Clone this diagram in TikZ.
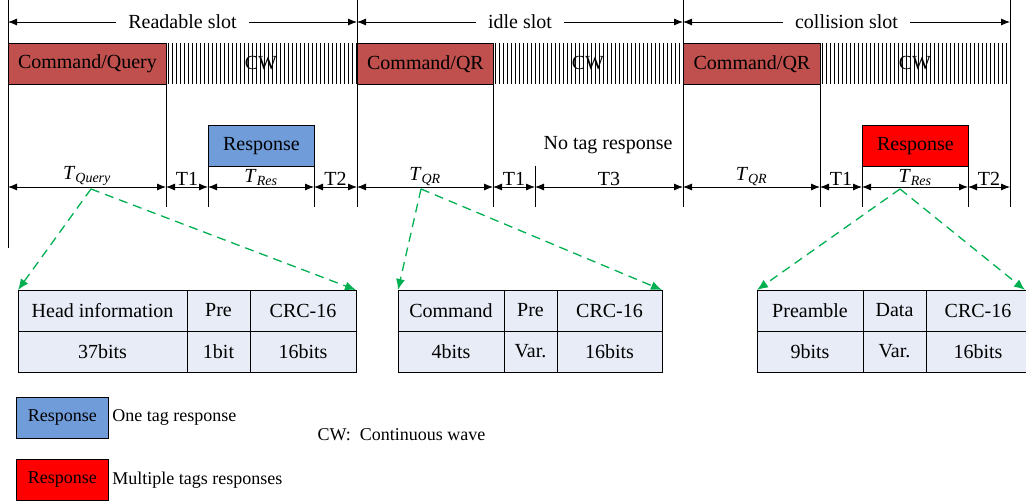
\documentclass[tikz,border=0pt]{standalone}
\usepackage{fontspec}
\setmainfont{Liberation Serif}
\usepackage{tikz}
\usetikzlibrary{arrows.meta, positioning, calc}
\definecolor{cmdred}{RGB}{192,80,77}
\definecolor{resblue}{RGB}{112,156,218}
\definecolor{multired}{RGB}{255,0,0}
\definecolor{cellblue}{RGB}{231,236,246}
\definecolor{zoomgreen}{RGB}{0,176,80}
\newcommand{\Tsub}[1]{\textit{T}\textsubscript{\textit{#1}}}
\tikzset{
    cmdbox/.style={draw, fill=cmdred, line width=0.9pt, minimum height=41pt, inner sep=0pt, anchor=north west},
    resbox/.style={draw, line width=0.9pt, minimum width=106pt, minimum height=41pt, inner sep=0pt, anchor=north west},
    cell/.style={draw, fill=cellblue, line width=0.9pt, minimum height=41pt, inner sep=0pt, outer sep=0pt},
    gap/.style={{Latex[length=9pt,width=7pt]}-{Latex[length=9pt,width=7pt]}, line width=0.8pt},
    zoomline/.style={zoomgreen, line width=1.3pt, dash pattern=on 9pt off 6pt, -{Latex[length=11pt,width=9pt]}},
    lbl/.style={above, inner sep=1pt},
    tick/.style={line width=0.9pt},
    keyfont/.style={font=\fontsize{18}{22}\selectfont},
}

\begin{document}
\begin{tikzpicture}[x=1pt, y=-1pt, font=\fontsize{20}{24}\selectfont]
    \useasboundingbox (0,0) rectangle (1026,502);

    % time marks
    \foreach \x/\a/\b in {8/0/248, 357/0/207, 683/0/207, 1010/0/207,
                          166/84/207, 208/166/207, 314/166/207,
                          493/84/207, 535/166/207,
                          820/84/207, 862/166/207, 968/166/207}
      \draw[tick] (\x,\a) -- (\x,\b);

    % slots
    \coordinate (s0) at (8,22);
    \coordinate (s1) at (357,22);
    \coordinate (s2) at (683,22);
    \coordinate (s3) at (1010,22);
    \draw[gap] (s0) -- node[fill=white, inner xsep=12pt]{Readable slot} (s1);
    \draw[gap] (s1) -- node[fill=white, inner xsep=12pt]{idle slot} (s2);
    \draw[gap] (s2) -- node[fill=white, inner xsep=12pt]{collision slot} (s3);

    % reader commands and carrier wave
    \node[cmdbox, minimum width=158pt] (cmdA) at (8,43) {Command/Query};
    \node[cmdbox, minimum width=136pt] (cmdB) at (357,43) {Command/QR};
    \node[cmdbox, minimum width=137pt] (cmdC) at (683,43) {Command/QR};

    \foreach \s/\n in {168/47, 495/46, 822/47}
      \foreach \i in {0,...,\n}
        \draw[line width=0.7pt] (\s+4*\i,43) -- (\s+4*\i,84);

    \node (cwA) at (261,63) {CW};
    \node (cwB) at (588,63) {CW};
    \node (cwC) at (915,63) {CW};

    % tag replies
    \node[resbox, fill=resblue] (resA) at (208,125) {Response};
    \node[resbox, fill=multired] (resC) at (862,125) {Response};
    \node (none) at (608,145) {No tag response};

    % durations
    \foreach \n/\x in {a0/8, a1/166, a2/208, a3/314, a4/357, b1/493, b2/535,
                       b3/683, c1/820, c2/862, c3/968, c4/1010}
      \coordinate (\n) at (\x,187);

    \draw[gap] (a0) -- node[lbl]{\Tsub{Query}} (a1);
    \draw[gap] (a1) -- node[lbl]{T1} (a2);
    \draw[gap] (a2) -- node[lbl]{\Tsub{Res}} (a3);
    \draw[gap] (a3) -- node[lbl]{T2} (a4);
    \draw[gap] (a4) -- node[lbl]{\Tsub{QR}} (b1);
    \draw[gap] (b1) -- node[lbl]{T1} (b2);
    \draw[gap] (b2) -- node[lbl]{T3} (b3);
    \draw[gap] (b3) -- node[lbl]{\Tsub{QR}} (c1);
    \draw[gap] (c1) -- node[lbl]{T1} (c2);
    \draw[gap] (c2) -- node[lbl]{\Tsub{Res}} (c3);
    \draw[gap] (c3) -- node[lbl]{T2} (c4);

    % frame formats
    \node[cell, minimum width=169pt, anchor=north west] (hA) at (18,290) {Head information};
    \node[cell, minimum width=63pt, right=0pt of hA] (hB) {Pre};
    \node[cell, minimum width=106pt, right=0pt of hB] (hC) {CRC-16};
    \node[cell, minimum width=169pt, below=0pt of hA] (vA) {37bits};
    \node[cell, minimum width=63pt, below=0pt of hB] (vB) {1bit};
    \node[cell, minimum width=106pt, below=0pt of hC] (vC) {16bits};

    \node[cell, minimum width=106pt, anchor=north west] (qA) at (398,290) {Command};
    \node[cell, minimum width=53pt, right=0pt of qA] (qB) {Pre};
    \node[cell, minimum width=105pt, right=0pt of qB] (qC) {CRC-16};
    \node[cell, minimum width=106pt, below=0pt of qA] (wA) {4bits};
    \node[cell, minimum width=53pt, below=0pt of qB] (wB) {Var.};
    \node[cell, minimum width=105pt, below=0pt of qC] (wC) {16bits};

    \node[cell, minimum width=106pt, anchor=north west] (rA) at (757,290) {Preamble};
    \node[cell, minimum width=63pt, right=0pt of rA] (rB) {Data};
    \node[cell, minimum width=104pt, right=0pt of rB] (rC) {CRC-16};
    \node[cell, minimum width=106pt, below=0pt of rA] (uA) {9bits};
    \node[cell, minimum width=63pt, below=0pt of rB] (uB) {Var.};
    \node[cell, minimum width=104pt, below=0pt of rC] (uC) {16bits};

    \coordinate (fromA) at (91,189);
    \coordinate (fromB) at (421,189);
    \coordinate (fromC) at (900,189);
    \coordinate (tipC) at (1025,290);

    \draw[zoomline] (fromA) -- (hA.north west);
    \draw[zoomline] (fromA) -- (hC.north east);
    \draw[zoomline] (fromB) -- (qA.north west);
    \draw[zoomline] (fromB) -- (qC.north east);
    \draw[zoomline] (fromC) -- (rA.north west);
    \draw[zoomline] (fromC) -- (tipC);

    % legend
    \node[resbox, fill=resblue, minimum width=92pt, keyfont] (keyA) at (16,397) {Response};
    \node[right=0pt of keyA, keyfont] (keyAtxt) {One tag response};
    \node[resbox, fill=multired, minimum width=92pt, keyfont] (keyB) at (16,459) {Response};
    \node[right=0pt of keyB, keyfont] (keyBtxt) {Multiple tags responses};
    \node[anchor=west, keyfont] (cwkey) at (314,435) {CW:\ \ Continuous wave};
\end{tikzpicture}
\end{document}
